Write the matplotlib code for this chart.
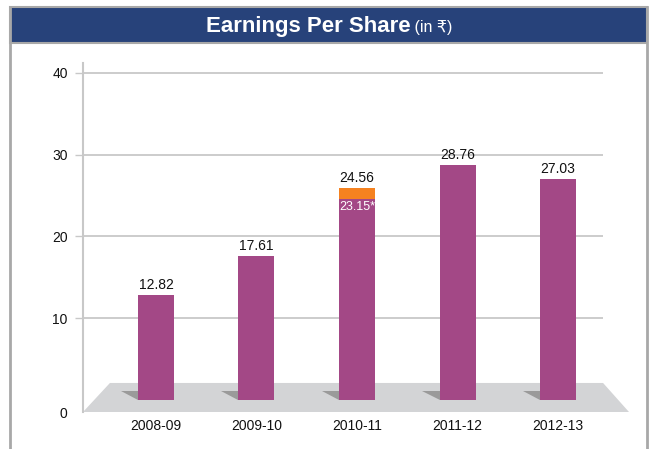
import matplotlib
matplotlib.use("Agg")
import matplotlib.pyplot as plt
from matplotlib.patches import Polygon, Rectangle
from matplotlib import font_manager

plt.rcParams['font.family'] = ['Liberation Sans', 'DejaVu Sans']
_names = {f.name for f in font_manager.fontManager.ttflist}
narrow_ok = 'Liberation Sans Narrow' in _names
NARROW = ['Liberation Sans Narrow', 'DejaVu Sans'] if narrow_ok else ['Liberation Sans', 'DejaVu Sans']

# ---- data ----
years = ["2008-09", "2009-10", "2010-11", "2011-12", "2012-13"]
eps = [12.82, 17.61, 24.56, 28.76, 27.03]
eps_labels = ["12.82", "17.61", "24.56", "28.76", "27.03"]
adjusted_index = 2
adjusted_eps = 23.15
adjusted_label = "23.15*"
y_ticks = [10, 20, 30, 40]
y_tick_labels = ["0", "10", "20", "30", "40"]
title_main = "Earnings Per Share"
title_unit = " (in \u20b9)"

# ---- colours ----
PURPLE = "#a34886"
ORANGE = "#f58220"
FLOOR = "#d3d4d6"
SHADOW = "#9a9a9a"
GRID = "#c8c8c8"
NAVY = "#27427a"
FRAME = "#a8a8a8"

W, H = 650, 449
fig = plt.figure(figsize=(W / 100, H / 100), dpi=100)

# frame + title bar (figure pixel coords)
bg = fig.add_axes([0, 0, 1, 1])
bg.set_xlim(0, W)
bg.set_ylim(H, 0)
bg.axis("off")
bg.plot([10, 10], [7, H], color=FRAME, lw=2)
bg.plot([647, 647], [7, H], color=FRAME, lw=2)
bg.add_patch(Rectangle((10, 7), 637, 36, facecolor=NAVY, edgecolor=FRAME, lw=1.5))

# plot axes
x_lo, x_hi = -0.726, 4.706
y_lo, y_hi = -1.47, 41.2
ax = fig.add_axes([83 / W, (H - 412) / H, (629 - 83) / W, (412 - 63) / H])
ax.set_xlim(x_lo, x_hi)
ax.set_ylim(y_lo, y_hi)
for s in ["top", "right", "bottom"]:
    ax.spines[s].set_visible(False)
ax.spines["left"].set_color(GRID)
ax.spines["left"].set_linewidth(1.5)
ax.patch.set_alpha(0)

# gridlines on back wall
grid_right = 4.448
ax.hlines(y_ticks, x_lo, grid_right, color=GRID, lw=1.3, zorder=1)

# floor
back_y, front_y = 2.08, y_lo
floor = Polygon([(x_lo, front_y), (x_hi, front_y), (grid_right, back_y), (-0.458, back_y)],
                closed=True, facecolor=FLOOR, edgecolor="none", zorder=2)
ax.add_patch(floor)

# bars
bw = 0.358
xs = list(range(len(years)))
for i in xs:
    left = i - bw / 2
    ax.add_patch(Polygon([(left - 0.17, 1.05), (left, 1.05), (left, 0.05)],
                         closed=True, facecolor=SHADOW, edgecolor="none", zorder=3))
ax.bar(xs, eps, width=bw, color=PURPLE, zorder=4)
extra = eps[adjusted_index] - adjusted_eps
ax.bar([adjusted_index], [extra], bottom=[eps[adjusted_index]], width=bw, color=ORANGE, zorder=4)

tops = list(eps)
tops[adjusted_index] = eps[adjusted_index] + extra
for i in xs:
    ax.annotate(eps_labels[i], (i, tops[i]), xytext=(0, 2), textcoords="offset points",
                ha="center", va="bottom", fontsize=10, color="#111111", zorder=6)
ax.annotate(adjusted_label, (adjusted_index, eps[adjusted_index]), xytext=(0.5, -1.5),
            textcoords="offset points", ha="center", va="top",
            fontsize=10.5 if narrow_ok else 9, family=NARROW,
            color="white", zorder=6)

# ticks
ax.set_yticks([y_lo] + y_ticks)
ax.set_yticklabels(y_tick_labels, fontsize=10, color="#111111")
ax.tick_params(axis="y", length=6, width=1, color=GRID, pad=5)
ax.yaxis.get_major_ticks()[0].tick1line.set_visible(False)
ax.set_xticks(xs)
ax.set_xticklabels(years, fontsize=10, color="#111111")
ax.tick_params(axis="x", length=0, pad=5)

# title
fig.canvas.draw()
r = fig.canvas.get_renderer()
t1 = fig.text(0, 0, title_main, fontsize=16, fontweight="bold", color="white",
              va="baseline", ha="left")
t2 = fig.text(0, 0, title_unit, fontsize=11.5, color="white", va="baseline", ha="left")
w1 = t1.get_window_extent(r).width
w2 = t2.get_window_extent(r).width
cx = 329
x0 = cx - (w1 + w2) / 2
base = H - 32
t1.set_position((x0 / W, base / H))
t2.set_position(((x0 + w1) / W, base / H))

fig.savefig("out.png", dpi=100)
